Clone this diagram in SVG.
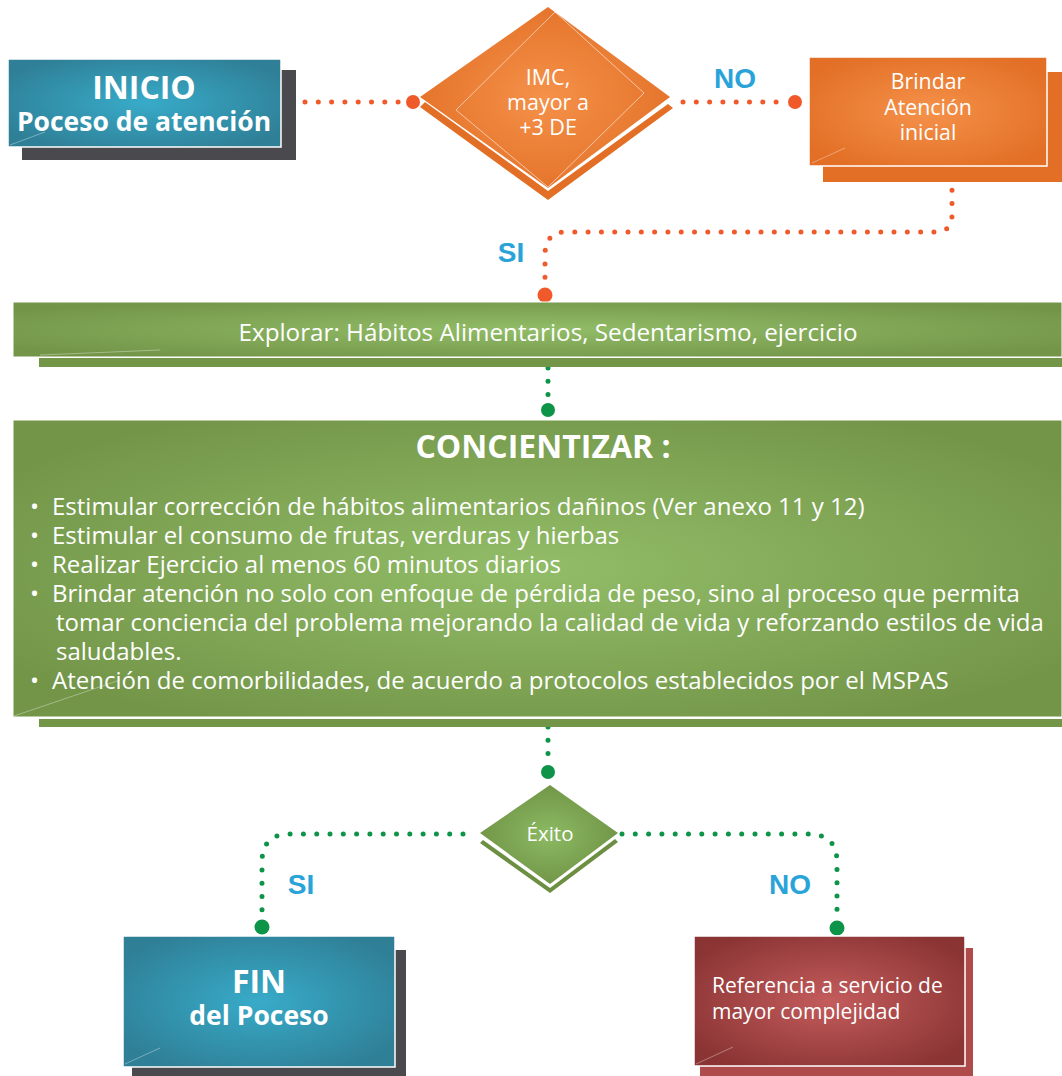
<svg xmlns="http://www.w3.org/2000/svg" width="1062" height="1076" viewBox="0 0 1062 1076">
<defs>
<radialGradient id="gTeal" cx="0.5" cy="0.5" r="0.6"><stop offset="0" stop-color="#38abc9"/><stop offset="1" stop-color="#2f7f96"/></radialGradient>
<radialGradient id="gOrange" cx="0.5" cy="0.5" r="0.6"><stop offset="0" stop-color="#f5914a"/><stop offset="1" stop-color="#e26f25"/></radialGradient>
<radialGradient id="gGreen" cx="0.5" cy="0.5" r="0.6"><stop offset="0" stop-color="#92bd68"/><stop offset="1" stop-color="#739548"/></radialGradient>
<radialGradient id="gGreenD" cx="0.5" cy="0.5" r="0.6"><stop offset="0" stop-color="#8cba63"/><stop offset="1" stop-color="#6c8f42"/></radialGradient>
<radialGradient id="gRed" cx="0.5" cy="0.5" r="0.6"><stop offset="0" stop-color="#c45c5c"/><stop offset="1" stop-color="#8b3434"/></radialGradient>
<style>
.t{font-family:"Open Sans","Noto Sans",sans-serif;fill:#fff}
.b{font-weight:bold}
.lab{font-family:"Liberation Sans",Arial,sans-serif;font-weight:bold;fill:#29a3d8;font-size:28px}
.od{fill:none;stroke:#f05a2b;stroke-width:5;stroke-linecap:round;stroke-dasharray:0 13.3}
.gd{fill:none;stroke:#0e9448;stroke-width:5;stroke-linecap:round;stroke-dasharray:0 13.3}
.hl{stroke:#fff;stroke-width:1;opacity:0.35;fill:none}
</style>
</defs>
<g id="connectors">
<path class="od" d="M305 102 H402"/>
<circle cx="413" cy="102" r="7" fill="#f05a2b"/>
<path class="od" d="M683 102 H785"/>
<circle cx="795" cy="102" r="7" fill="#f05a2b"/>
<path class="od" d="M952 177 V215 Q952 232 935 232 H566 Q545 232 545 255 V282"/>
<circle cx="545" cy="295" r="7.5" fill="#f05a2b"/>
<path class="gd" d="M548 368 V397"/>
<circle cx="548" cy="410" r="7" fill="#0e9448"/>
<path class="gd" d="M548 727 V756"/>
<circle cx="548" cy="772" r="7" fill="#0e9448"/>
<path class="gd" d="M463 834 H290 Q262 834 262 862 V917"/>
<circle cx="262" cy="927" r="7.5" fill="#0e9448"/>
<path class="gd" d="M622 834 H808 Q837 834 837 862 V917"/>
<circle cx="837" cy="928" r="7.5" fill="#0e9448"/>
</g>
<g id="lbl-no1"><text class="lab" x="735" y="88" text-anchor="middle">NO</text></g>
<g id="lbl-si1"><text class="lab" x="511" y="262" text-anchor="middle">SI</text></g>
<g id="lbl-si2"><text class="lab" x="301" y="894" text-anchor="middle">SI</text></g>
<g id="lbl-no2"><text class="lab" x="790" y="894" text-anchor="middle">NO</text></g>
<g id="inicio">
<rect x="22" y="70" width="274" height="90" fill="#4a4a4e"/>
<rect x="8" y="59" width="273" height="88" fill="url(#gTeal)" stroke="#fff" stroke-width="1.5"/>
<path class="hl" d="M10 145 L45 132"/>
<text class="t b" x="144" y="99" text-anchor="middle" font-size="32">INICIO</text>
<text class="t b" x="144" y="131" text-anchor="middle" font-size="26.5">Poceso de atención</text>
</g>
<g id="imc">
<path d="M420 107 L548 200 L673 108 L668 104 L548 191 L425 102 Z" fill="#e26f25"/>
<path d="M548 7 L670 97 L548 188 L420 97 Z" fill="url(#gOrange)"/>
<path d="M555 12 L644 93 L548 187 L456 110 Z" fill="none" stroke="#fff" stroke-width="0.8" opacity="0.7"/>
<text class="t" x="548" y="85" text-anchor="middle" font-size="21.5">IMC,</text>
<text class="t" x="548" y="110" text-anchor="middle" font-size="21.5">mayor a</text>
<text class="t" x="548" y="135" text-anchor="middle" font-size="21.5">+3 DE</text>
</g>
<g id="brindar">
<rect x="823" y="72" width="239" height="110" fill="#e26f25"/>
<rect x="809" y="57" width="238" height="109" fill="url(#gOrange)" stroke="#fff" stroke-width="1.5"/>
<path class="hl" d="M812 163 L845 148"/>
<text class="t" x="928" y="89" text-anchor="middle" font-size="21.3">Brindar</text>
<text class="t" x="928" y="115" text-anchor="middle" font-size="21.3">Atención</text>
<text class="t" x="928" y="140" text-anchor="middle" font-size="21.3">inicial</text>
</g>
<g id="explorar">
<rect x="39" y="358" width="1023" height="9" fill="#739548"/>
<rect x="13" y="302" width="1049" height="55" fill="url(#gGreen)" stroke="#fff" stroke-width="1"/>
<path class="hl" d="M40 355 L160 350"/>
<text class="t" x="548" y="341" text-anchor="middle" font-size="23" textLength="619" lengthAdjust="spacingAndGlyphs">Explorar: Hábitos Alimentarios,  Sedentarismo, ejercicio</text>
</g>
<g id="concientizar">
<rect x="39" y="719" width="1023" height="8" fill="#739548"/>
<rect x="13" y="420" width="1049" height="297" fill="url(#gGreen)" stroke="#fff" stroke-width="1"/>
<path class="hl" d="M14 716 L120 680"/>
<text class="t b" x="543" y="458" text-anchor="middle" font-size="32">CONCIENTIZAR :</text>
<g class="t" font-size="24">
<text x="30" y="515">•</text><text x="52" y="515">Estimular corrección de hábitos alimentarios dañinos (Ver anexo 11 y 12)</text>
<text x="30" y="544">•</text><text x="52" y="544">Estimular el consumo de frutas, verduras y hierbas</text>
<text x="30" y="573">•</text><text x="52" y="573">Realizar Ejercicio al menos 60 minutos diarios</text>
<text x="30" y="602">•</text><text x="52" y="602">Brindar atención no solo con enfoque de pérdida de peso, sino al proceso que permita</text>
<text x="56" y="631">tomar conciencia del problema mejorando la calidad de vida y reforzando estilos de vida</text>
<text x="56" y="660">saludables.</text>
<text x="30" y="689">•</text><text x="52" y="689">Atención de comorbilidades, de acuerdo a protocolos establecidos por el MSPAS</text>
</g>
</g>
<g id="exito">
<path d="M480 843 L550 893 L618 842 L615 839 L550 888 L483 840 Z" fill="#6c8f42"/>
<path d="M550 785 L618 833 L550 884 L480 833 Z" fill="url(#gGreenD)"/>
<text class="t" x="550" y="841" text-anchor="middle" font-size="20.5">Éxito</text>
</g>
<g id="fin">
<rect x="132" y="950" width="274" height="126" fill="#4a4a4e"/>
<rect x="123" y="936" width="272" height="131" fill="url(#gTeal)" stroke="#fff" stroke-width="1.5"/>
<path class="hl" d="M125 1064 L160 1048"/>
<text class="t b" x="259" y="993" text-anchor="middle" font-size="32">FIN</text>
<text class="t b" x="259" y="1025" text-anchor="middle" font-size="26.5">del Poceso</text>
</g>
<g id="referencia">
<rect x="700" y="948" width="273" height="128" fill="#b04b4b"/>
<rect x="694" y="936" width="271" height="130" fill="url(#gRed)" stroke="#fff" stroke-width="1.5"/>
<path class="hl" d="M696 1064 L733 1047"/>
<text class="t" x="712" y="993" font-size="21">Referencia a servicio de</text>
<text class="t" x="712" y="1019" font-size="21">mayor complejidad</text>
</g>
</svg>
